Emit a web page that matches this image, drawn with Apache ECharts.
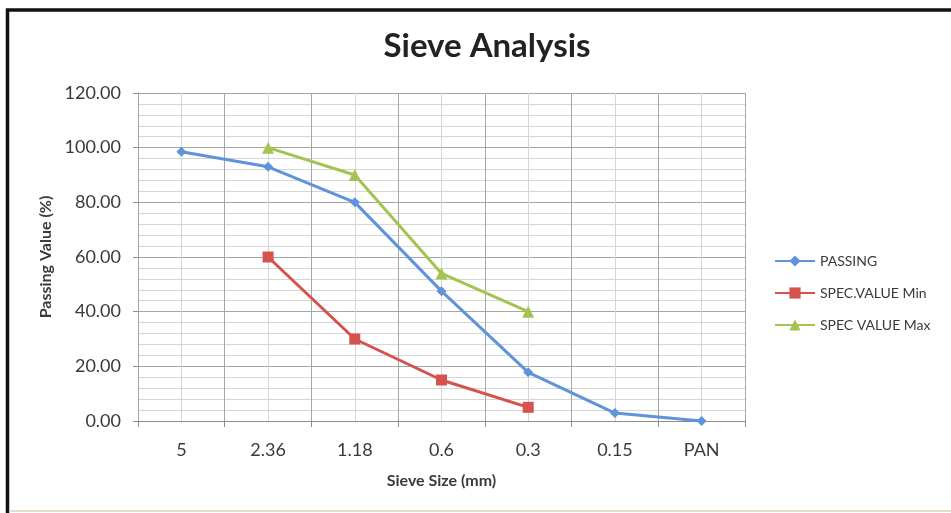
<!DOCTYPE html>
<html>
<head>
<meta charset="utf-8">
<script src="https://cdn.jsdelivr.net/npm/echarts@6/dist/echarts.min.js"></script>
<style>
  html, body { margin: 0; padding: 0; background: #ffffff; }
  #chart { width: 951px; height: 513px; }
</style>
</head>
<body>
<div id="chart"></div>
<script>
// Sieve sizes (mm) along the x axis
const sieveSizes = ['5', '2.36', '1.18', '0.6', '0.3', '0.15', 'PAN'];
// Percentage passing each sieve
const passing = [98.5, 93, 80, 47.5, 17.8, 2.9, 0];
// Specification envelope (only defined for 2.36 .. 0.3)
const specMin = ['-', 60, 30, 15, 5, '-', '-'];
const specMax = ['-', 100, 90, 54, 40, '-', '-'];
// Y axis range
const yMin = 0, yMax = 120, yStep = 20;

const FONT = 'Lato, "Open Sans", sans-serif';
const TEXT = '#3a3a3a';
const MAJOR = '#a6a6a6';
const MINOR = '#d6d6d6';

const chart = echarts.init(document.getElementById('chart'));

chart.setOption({
  animation: false,
  backgroundColor: '#ffffff',
  title: {
    text: 'Sieve Analysis',
    left: 482, top: 25, textAlign: 'center',
    textStyle: { fontFamily: FONT, fontSize: 33, fontWeight: 'bold', color: '#222' }
  },
  legend: {
    orient: 'vertical',
    left: 769, top: 249,
    itemWidth: 40, itemHeight: 14, itemGap: 18,
    textStyle: { fontFamily: FONT, fontSize: 14, color: TEXT },
    data: ['PASSING', 'SPEC.VALUE Min', 'SPEC VALUE Max']
  },
  grid: { left: 138, right: 206, top: 93, bottom: 92, containLabel: false },
  xAxis: [
    {
      type: 'category',
      data: sieveSizes,
      boundaryGap: true,
      name: 'Sieve Size (mm)',
      nameLocation: 'middle',
      nameGap: 52,
      nameTextStyle: { fontFamily: FONT, fontSize: 16, fontWeight: 'bold', color: TEXT },
      axisLine: { lineStyle: { color: '#8c8c8c', width: 1 } },
      axisTick: { show: true, length: 6, alignWithLabel: false, lineStyle: { color: '#8c8c8c' } },
      axisLabel: { fontFamily: FONT, fontSize: 18, color: TEXT, margin: 20 },
      splitLine: { show: true, interval: 0, lineStyle: { color: MAJOR, width: 1 } },
      z: 3
    },
    {
      // helper axis: light lines through each category centre
      type: 'value',
      min: 0, max: 7, interval: 1,
      show: true,
      axisLine: { show: false }, axisTick: { show: false }, axisLabel: { show: false },
      splitLine: { show: false },
      minorTick: { show: false, splitNumber: 2 },
      minorSplitLine: { show: true, lineStyle: { color: MINOR, width: 1 } },
      z: 1
    }
  ],
  yAxis: {
    type: 'value',
    min: yMin, max: yMax, interval: yStep,
    name: 'Passing Value (%)',
    nameLocation: 'middle',
    nameGap: 83,
    nameTextStyle: { fontFamily: FONT, fontSize: 16, fontWeight: 'bold', color: TEXT },
    axisLine: { show: true, lineStyle: { color: '#8c8c8c' } },
    axisTick: { show: true, length: 5, lineStyle: { color: '#8c8c8c' } },
    axisLabel: { fontFamily: FONT, fontSize: 18, color: TEXT, margin: 17,
                 formatter: v => v.toFixed(2) },
    splitLine: { show: true, lineStyle: { color: MAJOR, width: 1 } },
    minorTick: { show: false, splitNumber: 5 },
    minorSplitLine: { show: true, lineStyle: { color: MINOR, width: 1 } }
  },
  graphic: [
    {
      type: 'polyline',
      shape: { points: [[7.5, 513], [7.5, 10], [951, 10]] },
      style: { stroke: '#111', lineWidth: 3.5, fill: null },
      z: 100
    },
    {
      type: 'line',
      shape: { x1: 9, y1: 511, x2: 951, y2: 511 },
      style: { stroke: '#e6dccd', lineWidth: 2 },
      z: 100
    }
  ],
  series: [
    {
      name: 'PASSING', type: 'line', data: passing,
      symbol: 'diamond', symbolSize: 10,
      lineStyle: { color: '#5f93da', width: 3 },
      itemStyle: { color: '#5f93da' },
      z: 5
    },
    {
      name: 'SPEC.VALUE Min', type: 'line', data: specMin,
      symbol: 'rect', symbolSize: 11,
      lineStyle: { color: '#d5524d', width: 3 },
      itemStyle: { color: '#d5524d' },
      z: 5
    },
    {
      name: 'SPEC VALUE Max', type: 'line', data: specMax,
      symbol: 'triangle', symbolSize: 12,
      lineStyle: { color: '#a3c451', width: 3 },
      itemStyle: { color: '#a3c451' },
      z: 5
    }
  ]
});
</script>
</body>
</html>
